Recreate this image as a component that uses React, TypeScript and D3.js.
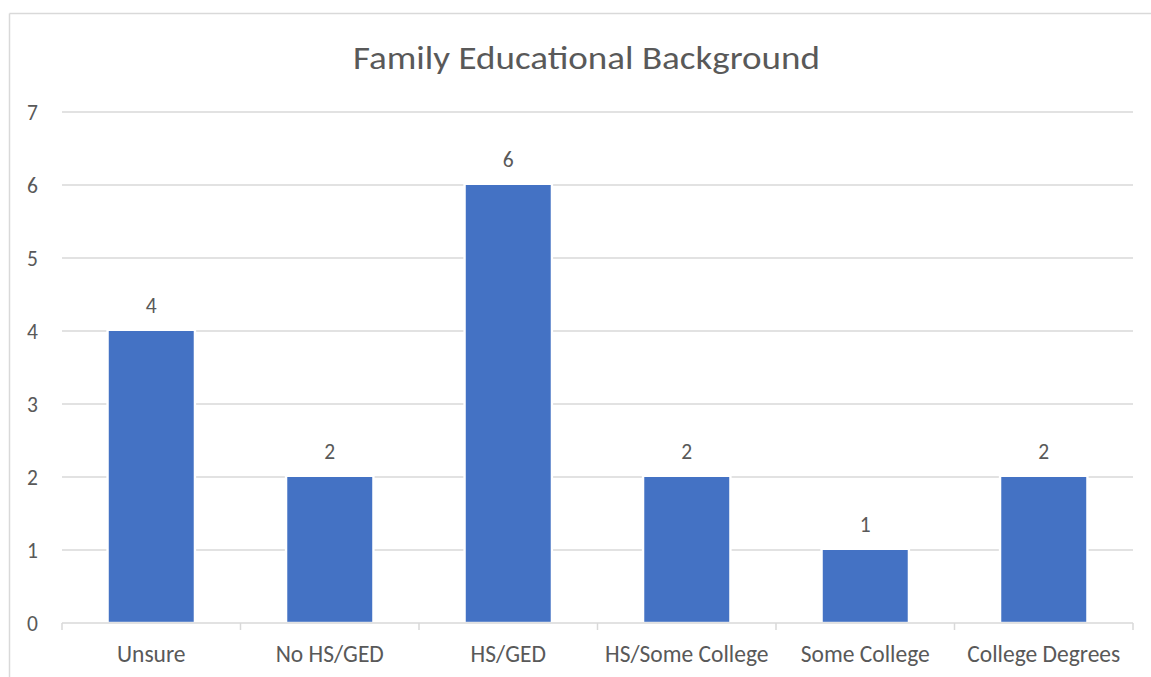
import React from "react";
import * as d3 from "d3";

const categories = ["Unsure", "No HS/GED", "HS/GED", "HS/Some College", "Some College", "College Degrees"];
const counts = [4, 2, 6, 2, 1, 2];
const yTicks = [0, 1, 2, 3, 4, 5, 6, 7];
const title = "Family Educational Background";

const W = 1151;
const H = 677;
const margin = { left: 62, right: 18, top: 112, bottom: 54 };
const FONT = "Carlito, Calibri, Lato, 'Open Sans', sans-serif";
const TEXT = "#595959";
const GRID = "#d9d9d9";
const BAR = "#4472C4";

export default function App() {
  const x0 = margin.left;
  const x1 = W - margin.right;
  const yTop = margin.top;
  const yBottom = H - margin.bottom;

  const x = d3
    .scaleBand<string>()
    .domain(categories)
    .range([x0, x1])
    .paddingInner(0.524)
    .paddingOuter(0.262);

  const y = d3.scaleLinear().domain([0, 7]).range([yBottom, yTop]);
  const step = x.step();
  const boundaries = d3.range(categories.length + 1).map((i) => x0 + i * step);

  return (
    <svg
      width={W}
      height={H}
      style={{ position: "absolute", left: 0, top: 0, background: "#fff" }}
      fontFamily={FONT}
    >
      {/* chart-area frame */}
      <line x1={9.5} x2={W} y1={13.5} y2={13.5} stroke={GRID} strokeWidth={1.5} />
      <line x1={9.5} x2={9.5} y1={13.5} y2={H} stroke={GRID} strokeWidth={1.5} />

      <text
        x={(353 + 820) / 2}
        y={69}
        textAnchor="middle"
        fontSize={32}
        fill={TEXT}
        textLength={467}
        lengthAdjust="spacingAndGlyphs"
      >
        {title}
      </text>

      {/* horizontal gridlines */}
      {yTicks.slice(1).map((t) => (
        <line key={t} x1={x0} x2={x1} y1={y(t)} y2={y(t)} stroke={GRID} strokeWidth={1.5} />
      ))}

      {/* y tick labels */}
      {yTicks.map((t) => (
        <text key={t} x={38} y={y(t)} dy="0.36em" textAnchor="end" fontSize={21.5} fill={TEXT}>
          {t}
        </text>
      ))}

      {/* bars */}
      {categories.map((c, i) => (
        <rect
          key={c}
          x={(x(c) ?? 0) - 1.2}
          y={y(counts[i]) - 1.2}
          width={x.bandwidth() + 2.4}
          height={yBottom - y(counts[i]) + 1.2}
          fill={BAR}
          stroke="#fff"
          strokeWidth={2.4}
        />
      ))}

      {/* x axis line and ticks */}
      <line x1={x0} x2={x1} y1={yBottom} y2={yBottom} stroke={GRID} strokeWidth={1.5} />
      {boundaries.map((bx, i) => (
        <line key={i} x1={bx} x2={bx} y1={yBottom} y2={yBottom + 7} stroke={GRID} strokeWidth={1.5} />
      ))}

      {/* value labels */}
      {categories.map((c, i) => (
        <text
          key={c}
          x={(x(c) ?? 0) + x.bandwidth() / 2}
          y={y(counts[i]) - 18}
          textAnchor="middle"
          fontSize={21.5}
          fill={TEXT}
        >
          {counts[i]}
        </text>
      ))}

      {/* category labels */}
      {categories.map((c) => (
        <text
          key={c}
          x={(x(c) ?? 0) + x.bandwidth() / 2}
          y={662}
          textAnchor="middle"
          fontSize={23.5}
          fill={TEXT}
        >
          {c}
        </text>
      ))}
    </svg>
  );
}
